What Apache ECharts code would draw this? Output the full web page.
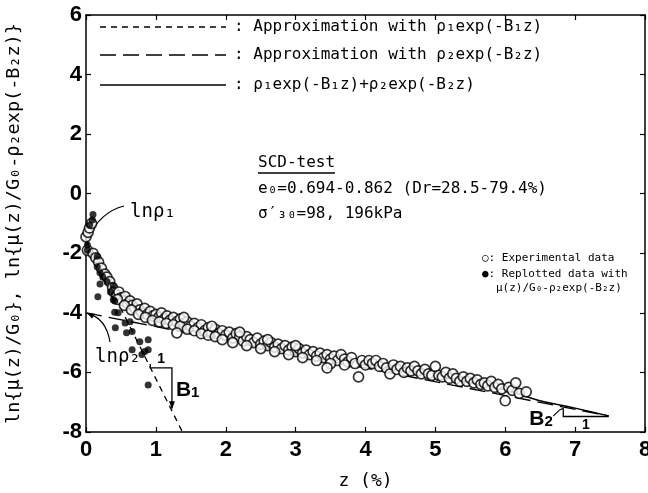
<!DOCTYPE html>
<html>
<head>
<meta charset="UTF-8">
<title>SCD-test</title>
<script src="https://cdn.jsdelivr.net/npm/echarts@6/dist/echarts.min.js"></script>
<style>
  html, body { margin: 0; padding: 0; background: #fff; }
  #main { width: 648px; height: 493px; }
</style>
</head>
<body>
<div id="main"></div>
<script type="text/javascript">

    // axis ticks
    var xTicks = [0, 1, 2, 3, 4, 5, 6, 7, 8];
    var yTicks = [-8, -6, -4, -2, 0, 2, 4, 6];

    // open circles: experimental data [z, ln(mu/G0)]
    var experimental = [
        [0.0,-1.45],[0.03,-1.3],[0.05,-1.15],[0.08,-1.0],[0.02,-1.9],[0.1,-2.0],[0.14,-2.15],[0.18,-2.3],
        [0.22,-2.5],[0.27,-2.7],[0.3,-2.8],[0.34,-2.95],[0.38,-3.15],[0.4,-3.3],[0.44,-3.4],[0.47,-3.3],
        [0.5,-3.5],[0.53,-3.6],[0.56,-3.45],[0.6,-3.7],[0.63,-3.6],[0.66,-3.75],[0.7,-3.85],[0.73,-3.7],
        [0.77,-3.9],[0.8,-4.0],[0.84,-3.85],[0.88,-4.05],[0.92,-3.95],[0.96,-4.1],[1.0,-4.05],[1.04,-4.15],
        [1.08,-4.0],[1.12,-4.2],[1.16,-4.1],[1.2,-4.25],[1.25,-4.15],[1.3,-4.3],[1.35,-4.2],[1.4,-4.35],
        [1.45,-4.3],[1.5,-4.45],[1.55,-4.35],[1.6,-4.5],[1.65,-4.4],[1.7,-4.6],[1.75,-4.5],[1.8,-4.65],
        [1.85,-4.55],[1.9,-4.7],[1.95,-4.6],[2.0,-4.75],[2.05,-4.65],[2.1,-4.85],[2.15,-4.7],[2.2,-4.8],
        [2.25,-4.95],[2.3,-4.8],[2.35,-4.9],[2.4,-5.0],[2.45,-4.85],[2.5,-5.05],[2.55,-4.95],[2.6,-5.1],
        [2.65,-5.0],[2.7,-5.15],[2.75,-5.05],[2.8,-5.2],[2.85,-5.1],[2.9,-5.25],[2.95,-5.15],[3.0,-5.3],
        [3.05,-5.2],[3.1,-5.35],[3.15,-5.25],[3.2,-5.4],[3.25,-5.3],[3.3,-5.45],[3.35,-5.35],[3.4,-5.5],
        [3.45,-5.4],[3.5,-5.55],[3.55,-5.45],[3.6,-5.6],[3.65,-5.4],[3.7,-5.55],[3.75,-5.65],[3.8,-5.5],
        [3.85,-5.7],[3.9,-6.15],[3.95,-5.6],[4.0,-5.75],[4.05,-5.6],[4.1,-5.7],[4.15,-5.6],[4.2,-5.8],
        [4.25,-5.7],[4.3,-5.85],[4.35,-6.05],[4.4,-5.75],[4.45,-5.9],[4.5,-5.8],[4.55,-6.0],[4.6,-5.85],
        [4.65,-5.95],[4.7,-5.8],[4.75,-5.95],[4.8,-6.05],[4.85,-5.9],[4.9,-6.05],[4.95,-6.1],[5.0,-5.8],
        [5.05,-6.1],[5.1,-6.15],[5.15,-6.0],[5.2,-6.2],[5.25,-6.05],[5.3,-6.2],[5.35,-6.3],[5.4,-6.15],
        [5.45,-6.3],[5.5,-6.2],[5.55,-6.35],[5.6,-6.25],[5.65,-6.4],[5.7,-6.35],[5.75,-6.45],[5.8,-6.3],
        [5.85,-6.5],[5.9,-6.4],[5.95,-6.55],[6.0,-6.95],[6.05,-6.5],[6.1,-6.6],[6.15,-6.35],[6.2,-6.7],
        [6.3,-6.65],
        [0.45,-3.55],[0.55,-3.75],[0.65,-3.9],[0.75,-4.05],[0.85,-4.15],[0.95,-4.25],[1.05,-4.3],[1.15,-4.35],
        [1.25,-4.4],[1.35,-4.45],[1.45,-4.55],[1.55,-4.6],[1.65,-4.7],[1.75,-4.75],[1.85,-4.8],[1.95,-4.9],
        [2.1,-5.0],[2.3,-5.1],[2.5,-5.2],[2.7,-5.3],[2.9,-5.4],[3.1,-5.5],[3.3,-5.6],[3.5,-5.7],[3.7,-5.75],
        [2.2,-4.65],[2.6,-4.9],[3.0,-5.1],[1.4,-4.15],[1.8,-4.45],[1.3,-4.67],[3.45,-5.85]
    ];

    // filled dots: replotted data [z, ln(mu/G0 - rho2 exp(-B2 z))]
    var replotted = [
        [0.1,-0.7],[0.09,-0.88],[0.05,-1.05],[0.02,-1.72],[0.02,-1.9],[0.16,-2.1],[0.16,-2.45],[0.2,-2.65],
        [0.24,-2.8],[0.2,-3.03],[0.17,-3.46],[0.39,-3.1],[0.41,-3.6],[0.39,-3.56],[0.41,-3.98],[0.46,-4.0],
        [0.56,-4.34],[0.42,-4.5],[0.63,-4.3],[0.66,-4.63],[0.58,-4.67],[0.77,-4.97],[0.89,-4.9],[0.66,-5.24],
        [0.84,-5.3],[0.8,-5.4],[0.89,-5.24],[0.89,-6.42],[0.3,-2.95],[0.35,-3.3]
    ];

    // fitted lines
    var approx1 = [[0, -1.5], [1.38, -8]];          // rho1 exp(-B1 z)
    var approx2 = [[0, -4.0], [7.48, -7.46]];       // rho2 exp(-B2 z)
    var combined = [
        [0,-1.5],[0.05,-1.85],[0.1,-2.1],[0.2,-2.5],[0.3,-2.85],[0.4,-3.15],[0.5,-3.4],[0.6,-3.6],
        [0.8,-3.9],[1.0,-4.1],[1.25,-4.25],[1.5,-4.4],[2,-4.68],[2.5,-4.95],[3,-5.2],[3.5,-5.45],
        [4,-5.68],[4.5,-5.9],[5,-6.1],[5.5,-6.33],[6,-6.58],[6.5,-6.95],[7,-7.2],[7.48,-7.46]
    ];

    var mono = 'DejaVu Sans Mono';
    var tickFont = "'Liberation Sans', Arial, sans-serif";

    var myChart = echarts.init(document.getElementById('main'));

    var tickStyle = { inside: true, length: 5, lineStyle: { color: '#000', width: 1.2 } };
    var lineStyle = { color: '#000', width: 1.5 };
    var axisLine = { onZero: false, lineStyle: lineStyle };

    option = {
        animation: false,
        backgroundColor: '#fff',
        grid: { left: 86, right: 3, top: 15, bottom: 61, outerBoundsMode: 'none', containLabel: false },
        xAxis: [
            {
                type: 'value', min: xTicks[0], max: xTicks[xTicks.length - 1], interval: 1,
                position: 'bottom',
                axisLine: axisLine,
                axisTick: tickStyle,
                splitLine: { show: false },
                axisLabel: { fontFamily: tickFont, fontWeight: 'bold', fontSize: 22, color: '#000', margin: 7 },
                name: 'z (%)', nameLocation: 'middle', nameGap: 40,
                nameTextStyle: { fontFamily: mono, fontSize: 18, color: '#000' }
            },
            {
                type: 'value', min: xTicks[0], max: xTicks[xTicks.length - 1], interval: 1,
                position: 'top',
                axisLine: axisLine,
                axisTick: tickStyle,
                splitLine: { show: false },
                axisLabel: { show: false }
            }
        ],
        yAxis: [
            {
                type: 'value', min: yTicks[0], max: yTicks[yTicks.length - 1], interval: 2,
                position: 'left',
                axisLine: axisLine,
                axisTick: tickStyle,
                splitLine: { show: false },
                axisLabel: { fontFamily: tickFont, fontWeight: 'bold', fontSize: 22, color: '#000', margin: 4 },
                name: 'ln{μ(z)/G₀}, ln{μ(z)/G₀-ρ₂exp(-B₂z)}',
                nameLocation: 'middle', nameGap: 62, nameRotate: 90,
                nameTextStyle: { fontFamily: mono, fontSize: 18.5, color: '#000' }
            },
            {
                type: 'value', min: yTicks[0], max: yTicks[yTicks.length - 1], interval: 2,
                position: 'right',
                axisLine: axisLine,
                axisTick: tickStyle,
                splitLine: { show: false },
                axisLabel: { show: false }
            }
        ],
        series: [
            {
                name: 'approx1', type: 'line', data: approx1, symbol: 'none', z: 1,
                lineStyle: { color: '#000', width: 1.3, type: [6, 5] }
            },
            {
                name: 'approx2', type: 'line', data: approx2, symbol: 'none', z: 1,
                lineStyle: { color: '#000', width: 1.3, type: [16, 7] }
            },
            {
                name: 'combined', type: 'line', data: combined, symbol: 'none', smooth: 0.3, z: 1,
                lineStyle: { color: '#000', width: 1.4 }
            },
            {
                name: 'Experimental data', type: 'scatter', data: experimental, symbol: 'circle', symbolSize: 10, z: 3,
                itemStyle: { color: '#fff', borderColor: '#000', borderWidth: 1.7 }
            },
            {
                name: 'Replotted data', type: 'scatter', data: replotted, symbol: 'circle', symbolSize: 7, z: 4,
                itemStyle: { color: '#000' }
            }
        ]
    };
    myChart.setOption(option);

    // annotations, placed from data coordinates
    function px(z, v) { return myChart.convertToPixel({ gridIndex: 0 }, [z, v]); }

    var txt = { fill: '#000', fontFamily: mono, fontSize: 16 };
    var g = [];
    var rows = [27, 55, 85];
    var dashes = [[6, 5], [16, 7], null];
    var rowText = [
        ': Approximation with ρ₁exp(-B₁z)',
        ': Approximation with ρ₂exp(-B₂z)',
        ': ρ₁exp(-B₁z)+ρ₂exp(-B₂z)'
    ];
    rows.forEach(function (y, i) {
        g.push({ type: 'line', shape: { x1: 100, y1: y, x2: 226, y2: y },
            style: { stroke: '#000', lineWidth: 1.3, lineDash: dashes[i] } });
        g.push({ type: 'text', x: 234, y: y, style: Object.assign({ text: rowText[i], verticalAlign: 'middle' }, txt) });
    });

    g.push({ type: 'text', x: 258, y: 163, style: Object.assign({ text: 'SCD-test', verticalAlign: 'middle' }, txt) });
    g.push({ type: 'line', shape: { x1: 258, y1: 173, x2: 335, y2: 173 }, style: { stroke: '#000', lineWidth: 1.3 } });
    g.push({ type: 'text', x: 258, y: 189, style: Object.assign({ text: 'e₀=0.694-0.862 (Dr=28.5-79.4%)', verticalAlign: 'middle' }, txt) });
    g.push({ type: 'text', x: 258, y: 214, style: Object.assign({ text: 'σ′₃₀=98, 196kPa', verticalAlign: 'middle' }, txt) });

    var small = { fill: '#000', fontFamily: mono, fontSize: 11, verticalAlign: 'middle' };
    g.push({ type: 'text', x: 482, y: 258, style: Object.assign({ text: '○: Experimental data' }, small) });
    g.push({ type: 'text', x: 482, y: 274, style: Object.assign({ text: '●: Replotted data with' }, small) });
    g.push({ type: 'text', x: 496, y: 288, style: Object.assign({ text: 'μ(z)/G₀-ρ₂exp(-B₂z)' }, small) });

    // ln rho1 label and leader
    var p1 = px(0.03, -1.5);
    g.push({ type: 'text', x: 130, y: 212, style: Object.assign({ text: 'lnρ₁', verticalAlign: 'middle' }, txt, { fontSize: 19 }) });
    g.push({ type: 'bezierCurve', shape: { x1: 124, y1: 206, x2: p1[0], y2: p1[1], cpx1: 100, cpy1: 212 },
        style: { stroke: '#000', lineWidth: 1.2, fill: null } });

    // ln rho2 label and curved arrow
    var p2 = px(0, -4);
    g.push({ type: 'text', x: 95, y: 357, style: Object.assign({ text: 'lnρ₂', verticalAlign: 'middle' }, txt, { fontSize: 19 }) });
    g.push({ type: 'bezierCurve', shape: { x1: 110, y1: 342, x2: p2[0] + 2, y2: p2[1] + 1, cpx1: 106, cpy1: 318 },
        style: { stroke: '#000', lineWidth: 1.2, fill: null } });
    g.push({ type: 'polygon', shape: { points: [[p2[0] + 1, p2[1]], [p2[0] + 9, p2[1] + 1], [p2[0] + 6, p2[1] + 6]] },
        style: { fill: '#000' } });

    // B1 slope triangle
    var b1a = px(0.92, -5.85), b1b = px(1.23, -5.85), b1c = px(1.23, -7.2);
    g.push({ type: 'polyline', shape: { points: [[b1a[0], b1a[1] - 4], b1a, b1b, b1c] },
        style: { stroke: '#000', lineWidth: 1.3, fill: null } });
    g.push({ type: 'polygon', shape: { points: [[b1c[0] - 3, b1c[1] - 7], [b1c[0] + 3, b1c[1] - 7], [b1c[0], b1c[1] + 1]] },
        style: { fill: '#000' } });
    g.push({ type: 'text', x: (b1a[0] + b1b[0]) / 2, y: b1a[1] - 9, style: { text: '1', fill: '#000', fontFamily: tickFont, fontWeight: 'bold', fontSize: 14, align: 'center', verticalAlign: 'middle' } });
    g.push({ type: 'text', x: b1b[0] + 4, y: 390, style: {
        text: '{b|B}{s|1}', verticalAlign: 'middle',
        rich: { b: { fontFamily: 'Liberation Sans', fontWeight: 'bold', fontSize: 21, fill: '#000' },
                s: { fontFamily: 'Liberation Sans', fontWeight: 'bold', fontSize: 15, fill: '#000', padding: [5, 0, 0, 0] } } } });

    // B2 slope triangle
    var b2a = px(6.83, -7.2), b2b = px(6.83, -7.48), b2c = px(7.48, -7.48);
    g.push({ type: 'polyline', shape: { points: [b2a, b2b, b2c] }, style: { stroke: '#000', lineWidth: 1.3, fill: null } });
    g.push({ type: 'polyline', shape: { points: [[b2a[0] - 10, b2a[1] + 8], [b2a[0] - 4, b2a[1] + 2], b2a] },
        style: { stroke: '#000', lineWidth: 1.1, fill: null } });
    g.push({ type: 'text', x: (b2b[0] + b2c[0]) / 2, y: b2b[1] + 9, style: { text: '1', fill: '#000', fontFamily: tickFont, fontWeight: 'bold', fontSize: 14, align: 'center', verticalAlign: 'middle' } });
    g.push({ type: 'text', x: b2a[0] - 34, y: b2a[1] + 11, style: {
        text: '{b|B}{s|2}', verticalAlign: 'middle',
        rich: { b: { fontFamily: 'Liberation Sans', fontWeight: 'bold', fontSize: 21, fill: '#000' },
                s: { fontFamily: 'Liberation Sans', fontWeight: 'bold', fontSize: 15, fill: '#000', padding: [5, 0, 0, 0] } } } });

    myChart.setOption({ graphic: g });
</script>
</body>
</html>
